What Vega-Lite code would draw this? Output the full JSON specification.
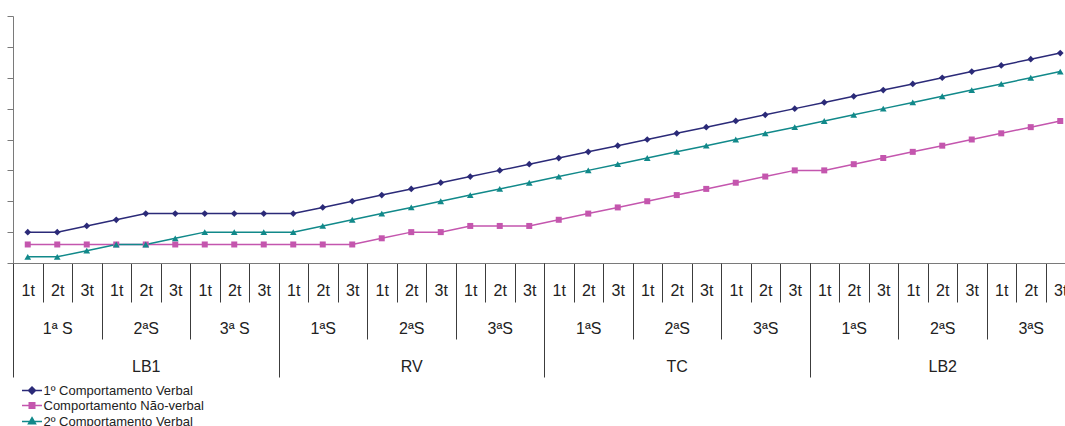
{
  "$schema": "https://vega.github.io/schema/vega-lite/v6.json",
  "width": 1052,
  "height": 247,
  "autosize": {"type": "none"},
  "padding": {"left": 13, "top": 16, "right": 0, "bottom": 163},
  "config": {
    "view": {"stroke": null},
    "axis": {"labelFont": "Liberation Sans", "labelColor": "#222222", "labelAngle": 0, "title": null},
    "legend": {"orient": "none", "legendX": 12.5, "legendY": 368, "title": null, "padding": 0, "offset": 0, "labelFont": "Liberation Sans", "labelFontSize": 13, "labelColor": "#222222", "labelOffset": 5, "labelLimit": 0, "symbolSize": 100, "rowPadding": 1, "symbolStrokeWidth": 1.5, "symbolOpacity": 1}
  },
  "data": {"values": [
    {"k": "LB1|1ª S|1t", "s": "LB1|1ª S", "f": "LB1", "1º Comportamento Verbal": 5, "Comportamento Não-verbal": 3, "2º Comportamento Verbal": 1},
    {"k": "LB1|1ª S|2t", "s": "LB1|1ª S", "f": "LB1", "1º Comportamento Verbal": 5, "Comportamento Não-verbal": 3, "2º Comportamento Verbal": 1},
    {"k": "LB1|1ª S|3t", "s": "LB1|1ª S", "f": "LB1", "1º Comportamento Verbal": 6, "Comportamento Não-verbal": 3, "2º Comportamento Verbal": 2},
    {"k": "LB1|2ªS|1t", "s": "LB1|2ªS", "f": "LB1", "1º Comportamento Verbal": 7, "Comportamento Não-verbal": 3, "2º Comportamento Verbal": 3},
    {"k": "LB1|2ªS|2t", "s": "LB1|2ªS", "f": "LB1", "1º Comportamento Verbal": 8, "Comportamento Não-verbal": 3, "2º Comportamento Verbal": 3},
    {"k": "LB1|2ªS|3t", "s": "LB1|2ªS", "f": "LB1", "1º Comportamento Verbal": 8, "Comportamento Não-verbal": 3, "2º Comportamento Verbal": 4},
    {"k": "LB1|3ª S|1t", "s": "LB1|3ª S", "f": "LB1", "1º Comportamento Verbal": 8, "Comportamento Não-verbal": 3, "2º Comportamento Verbal": 5},
    {"k": "LB1|3ª S|2t", "s": "LB1|3ª S", "f": "LB1", "1º Comportamento Verbal": 8, "Comportamento Não-verbal": 3, "2º Comportamento Verbal": 5},
    {"k": "LB1|3ª S|3t", "s": "LB1|3ª S", "f": "LB1", "1º Comportamento Verbal": 8, "Comportamento Não-verbal": 3, "2º Comportamento Verbal": 5},
    {"k": "RV|1ªS|1t", "s": "RV|1ªS", "f": "RV", "1º Comportamento Verbal": 8, "Comportamento Não-verbal": 3, "2º Comportamento Verbal": 5},
    {"k": "RV|1ªS|2t", "s": "RV|1ªS", "f": "RV", "1º Comportamento Verbal": 9, "Comportamento Não-verbal": 3, "2º Comportamento Verbal": 6},
    {"k": "RV|1ªS|3t", "s": "RV|1ªS", "f": "RV", "1º Comportamento Verbal": 10, "Comportamento Não-verbal": 3, "2º Comportamento Verbal": 7},
    {"k": "RV|2ªS|1t", "s": "RV|2ªS", "f": "RV", "1º Comportamento Verbal": 11, "Comportamento Não-verbal": 4, "2º Comportamento Verbal": 8},
    {"k": "RV|2ªS|2t", "s": "RV|2ªS", "f": "RV", "1º Comportamento Verbal": 12, "Comportamento Não-verbal": 5, "2º Comportamento Verbal": 9},
    {"k": "RV|2ªS|3t", "s": "RV|2ªS", "f": "RV", "1º Comportamento Verbal": 13, "Comportamento Não-verbal": 5, "2º Comportamento Verbal": 10},
    {"k": "RV|3ªS|1t", "s": "RV|3ªS", "f": "RV", "1º Comportamento Verbal": 14, "Comportamento Não-verbal": 6, "2º Comportamento Verbal": 11},
    {"k": "RV|3ªS|2t", "s": "RV|3ªS", "f": "RV", "1º Comportamento Verbal": 15, "Comportamento Não-verbal": 6, "2º Comportamento Verbal": 12},
    {"k": "RV|3ªS|3t", "s": "RV|3ªS", "f": "RV", "1º Comportamento Verbal": 16, "Comportamento Não-verbal": 6, "2º Comportamento Verbal": 13},
    {"k": "TC|1ªS|1t", "s": "TC|1ªS", "f": "TC", "1º Comportamento Verbal": 17, "Comportamento Não-verbal": 7, "2º Comportamento Verbal": 14},
    {"k": "TC|1ªS|2t", "s": "TC|1ªS", "f": "TC", "1º Comportamento Verbal": 18, "Comportamento Não-verbal": 8, "2º Comportamento Verbal": 15},
    {"k": "TC|1ªS|3t", "s": "TC|1ªS", "f": "TC", "1º Comportamento Verbal": 19, "Comportamento Não-verbal": 9, "2º Comportamento Verbal": 16},
    {"k": "TC|2ªS|1t", "s": "TC|2ªS", "f": "TC", "1º Comportamento Verbal": 20, "Comportamento Não-verbal": 10, "2º Comportamento Verbal": 17},
    {"k": "TC|2ªS|2t", "s": "TC|2ªS", "f": "TC", "1º Comportamento Verbal": 21, "Comportamento Não-verbal": 11, "2º Comportamento Verbal": 18},
    {"k": "TC|2ªS|3t", "s": "TC|2ªS", "f": "TC", "1º Comportamento Verbal": 22, "Comportamento Não-verbal": 12, "2º Comportamento Verbal": 19},
    {"k": "TC|3ªS|1t", "s": "TC|3ªS", "f": "TC", "1º Comportamento Verbal": 23, "Comportamento Não-verbal": 13, "2º Comportamento Verbal": 20},
    {"k": "TC|3ªS|2t", "s": "TC|3ªS", "f": "TC", "1º Comportamento Verbal": 24, "Comportamento Não-verbal": 14, "2º Comportamento Verbal": 21},
    {"k": "TC|3ªS|3t", "s": "TC|3ªS", "f": "TC", "1º Comportamento Verbal": 25, "Comportamento Não-verbal": 15, "2º Comportamento Verbal": 22},
    {"k": "LB2|1ªS|1t", "s": "LB2|1ªS", "f": "LB2", "1º Comportamento Verbal": 26, "Comportamento Não-verbal": 15, "2º Comportamento Verbal": 23},
    {"k": "LB2|1ªS|2t", "s": "LB2|1ªS", "f": "LB2", "1º Comportamento Verbal": 27, "Comportamento Não-verbal": 16, "2º Comportamento Verbal": 24},
    {"k": "LB2|1ªS|3t", "s": "LB2|1ªS", "f": "LB2", "1º Comportamento Verbal": 28, "Comportamento Não-verbal": 17, "2º Comportamento Verbal": 25},
    {"k": "LB2|2ªS|1t", "s": "LB2|2ªS", "f": "LB2", "1º Comportamento Verbal": 29, "Comportamento Não-verbal": 18, "2º Comportamento Verbal": 26},
    {"k": "LB2|2ªS|2t", "s": "LB2|2ªS", "f": "LB2", "1º Comportamento Verbal": 30, "Comportamento Não-verbal": 19, "2º Comportamento Verbal": 27},
    {"k": "LB2|2ªS|3t", "s": "LB2|2ªS", "f": "LB2", "1º Comportamento Verbal": 31, "Comportamento Não-verbal": 20, "2º Comportamento Verbal": 28},
    {"k": "LB2|3ªS|1t", "s": "LB2|3ªS", "f": "LB2", "1º Comportamento Verbal": 32, "Comportamento Não-verbal": 21, "2º Comportamento Verbal": 29},
    {"k": "LB2|3ªS|2t", "s": "LB2|3ªS", "f": "LB2", "1º Comportamento Verbal": 33, "Comportamento Não-verbal": 22, "2º Comportamento Verbal": 30},
    {"k": "LB2|3ªS|3t", "s": "LB2|3ªS", "f": "LB2", "1º Comportamento Verbal": 34, "Comportamento Não-verbal": 23, "2º Comportamento Verbal": 31}
  ]},
  "layer": [
    {
      "transform": [{"fold": ["1º Comportamento Verbal", "Comportamento Não-verbal", "2º Comportamento Verbal"], "as": ["serie", "v"]}],
      "encoding": {
        "x": {
          "field": "k", "type": "nominal", "sort": null,
          "scale": {"type": "band", "range": [0, 1062], "paddingInner": 0, "paddingOuter": 0},
          "axis": {"orient": "bottom", "labelExpr": "split(datum.value, '|')[2]", "tickBand": "extent", "tickSize": 39, "tickColor": "#3c3c3c", "tickWidth": 1, "domainColor": "#7a7a7a", "domainWidth": 1, "labelBaseline": "middle", "labelPadding": -12, "labelFontSize": 16}
        },
        "y": {
          "field": "v", "type": "quantitative",
          "scale": {"domain": [0, 40], "nice": false},
          "axis": {"values": [0, 5, 10, 15, 20, 25, 30, 35, 40], "labels": false, "grid": false, "tickSize": 6, "tickColor": "#7a7a7a", "domainColor": "#7a7a7a"}
        },
        "color": {
          "field": "serie", "type": "nominal",
          "scale": {"domain": ["1º Comportamento Verbal", "Comportamento Não-verbal", "2º Comportamento Verbal"], "range": ["#2b2a78", "#c456ae", "#11898a"]}
        }
      },
      "layer": [
        {"mark": {"type": "line", "strokeWidth": 1.5}},
        {"transform": [{"filter": "datum.serie == '1º Comportamento Verbal'"}], "mark": {"type": "point", "filled": true, "opacity": 1, "size": 45, "shape": "diamond"}},
        {"transform": [{"filter": "datum.serie == 'Comportamento Não-verbal'"}], "mark": {"type": "point", "filled": true, "opacity": 1, "size": 36, "shape": "square"}},
        {"transform": [{"filter": "datum.serie == '2º Comportamento Verbal'"}], "mark": {"type": "point", "filled": true, "opacity": 1, "size": 45, "shape": "triangle-up"}}
      ]
    },
    {
      "data": {"values": [{"serie": "1º Comportamento Verbal"}, {"serie": "Comportamento Não-verbal"}, {"serie": "2º Comportamento Verbal"}]},
      "mark": {"type": "point", "opacity": 0, "filled": false},
      "encoding": {
        "color": {"field": "serie", "type": "nominal"},
        "shape": {
          "field": "serie", "type": "nominal",
          "scale": {"domain": ["1º Comportamento Verbal", "Comportamento Não-verbal", "2º Comportamento Verbal"], "range": ["M-2,0H2M0,-0.7L0.7,0L0,0.7L-0.7,0ZM0,-0.35L0.35,0L0,0.35L-0.35,0Z", "M-2,0H2M-0.55,-0.55H0.55V0.55H-0.55ZM-0.25,-0.25H0.25V0.25H-0.25Z", "M-2,0H2M0,-0.75L0.7,0.45H-0.7ZM0,-0.3L0.3,0.25H-0.3Z"]}
        }
      }
    },
    {
      "mark": {"type": "point", "opacity": 0},
      "encoding": {
        "x": {
          "field": "s", "type": "nominal", "sort": null,
          "scale": {"type": "band", "range": [0, 1062], "paddingInner": 0, "paddingOuter": 0},
          "axis": {"orient": "bottom", "labelExpr": "split(datum.value, '|')[1]", "tickBand": "extent", "tickSize": 76, "tickColor": "#3c3c3c", "tickWidth": 1, "domain": false, "labelBaseline": "middle", "labelPadding": -10.5, "labelFontSize": 16}
        }
      }
    },
    {
      "mark": {"type": "point", "opacity": 0},
      "encoding": {
        "x": {
          "field": "f", "type": "nominal", "sort": null,
          "scale": {"type": "band", "range": [0, 1062], "paddingInner": 0, "paddingOuter": 0},
          "axis": {"orient": "bottom", "tickBand": "extent", "tickSize": 114, "tickColor": "#3c3c3c", "tickWidth": 1, "domain": false, "labelBaseline": "middle", "labelPadding": -10.3, "labelFontSize": 16}
        }
      }
    }
  ],
  "resolve": {"scale": {"x": "independent"}, "axis": {"x": "independent"}}
}
